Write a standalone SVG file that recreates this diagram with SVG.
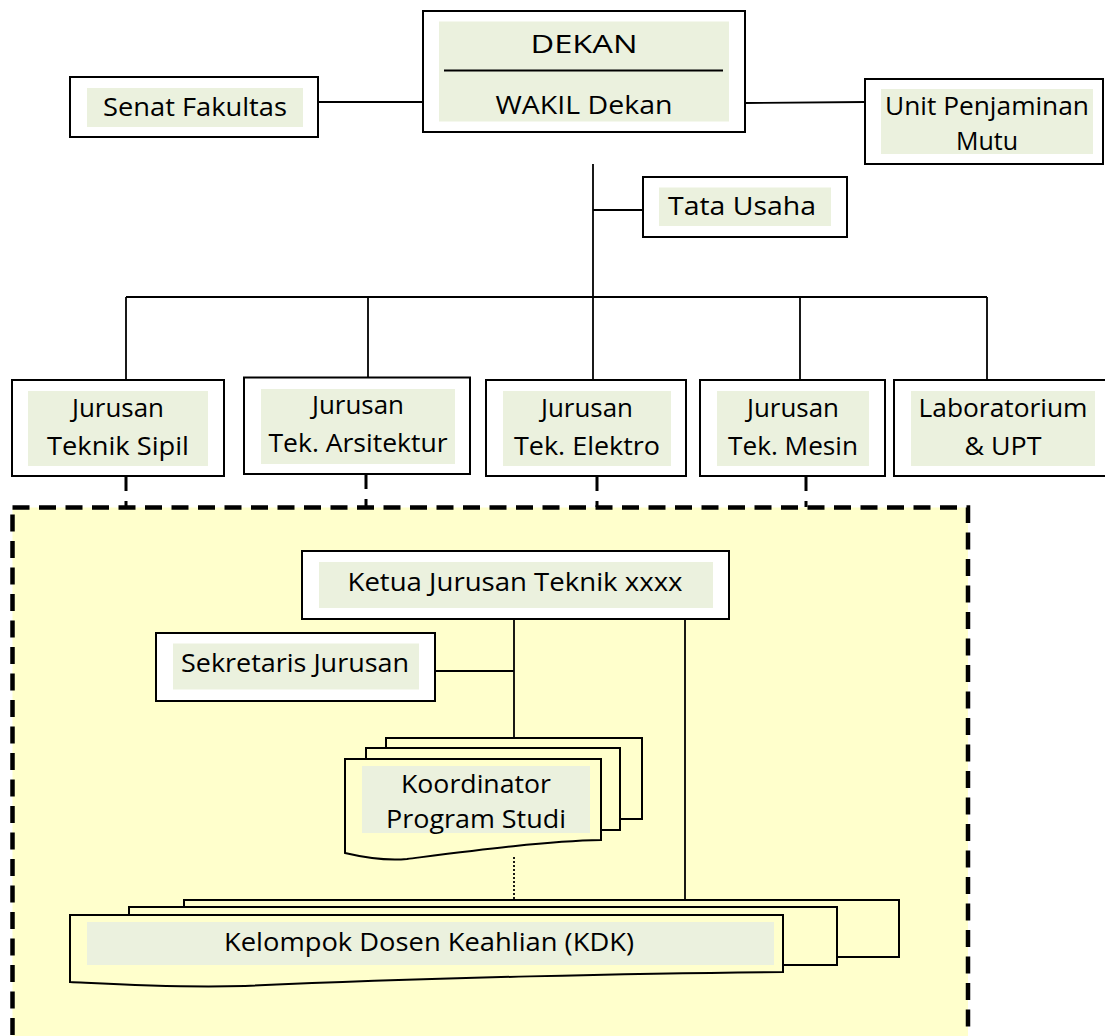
<svg xmlns="http://www.w3.org/2000/svg" width="1105" height="1036" viewBox="0 0 1105 1036">
<style>
.box{fill:#FFFFFF;stroke:#000;stroke-width:2}
.doc{fill:#FFFFCC;stroke:#000;stroke-width:2}
.inner{fill:#EBF1DE;stroke:none}
.t{font-family:"Open Sans","Noto Sans","Liberation Sans",sans-serif;font-size:26px;fill:#000;text-anchor:middle}
.ln{stroke:#000;stroke-width:1.8;fill:none}
.stub{stroke:#000;stroke-width:3;fill:none;stroke-dasharray:15 10}
</style>
<rect id="area" x="12.5" y="507.5" width="955.5" height="620" fill="#FFFFCC" stroke="#000" stroke-width="4.5" stroke-dasharray="17 9.5"/>
<g id="connectors">
<line class="ln" x1="318" y1="102" x2="423" y2="102"/>
<line class="ln" x1="745" y1="103" x2="865" y2="102"/>
<line class="ln" x1="593" y1="164" x2="593" y2="297"/>
<line class="ln" x1="593" y1="210" x2="643" y2="210"/>
<line class="ln" x1="126" y1="297" x2="987" y2="297"/>
<line class="ln" x1="126" y1="297" x2="126" y2="389"/>
<line class="ln" x1="368" y1="297" x2="368" y2="377"/>
<line class="ln" x1="593" y1="297" x2="593" y2="380"/>
<line class="ln" x1="800" y1="297" x2="800" y2="380"/>
<line class="ln" x1="987" y1="297" x2="987" y2="380"/>
<line class="stub" x1="126" y1="476" x2="126" y2="507"/>
<line class="stub" x1="366" y1="474" x2="366" y2="507"/>
<line class="stub" x1="597" y1="476" x2="597" y2="507"/>
<line class="stub" x1="806" y1="476" x2="806" y2="507"/>
<line class="ln" x1="514" y1="619" x2="514" y2="738"/>
<line class="ln" x1="435" y1="671" x2="514" y2="671"/>
<line class="ln" x1="685" y1="619" x2="685" y2="900"/>
<line class="ln" x1="514" y1="857" x2="514" y2="900" stroke-dasharray="2 2" stroke-width="1.5"/>
</g>
<g id="dekan">
<rect class="box" x="423" y="11" width="322" height="121"/>
<rect class="inner" x="439" y="21.5" width="290" height="100"/>
<line x1="444" y1="70.5" x2="723" y2="70.5" stroke="#000" stroke-width="2"/>
<text class="t" x="584" y="53" font-size="30" textLength="107" lengthAdjust="spacingAndGlyphs">DEKAN</text>
<text class="t" x="584" y="114" textLength="177" lengthAdjust="spacingAndGlyphs">WAKIL Dekan</text>
</g>
<g id="senat">
<rect class="box" x="70" y="77" width="248" height="60"/>
<rect class="inner" x="87" y="88" width="216" height="39"/>
<text class="t" x="195" y="116" textLength="184" lengthAdjust="spacingAndGlyphs">Senat Fakultas</text>
</g>
<g id="upm">
<rect class="box" x="865" y="79" width="238" height="85"/>
<rect class="inner" x="881" y="89" width="212" height="65"/>
<text class="t" x="987" y="115" textLength="204" lengthAdjust="spacingAndGlyphs">Unit Penjaminan</text>
<text class="t" x="987" y="150" textLength="62" lengthAdjust="spacingAndGlyphs">Mutu</text>
</g>
<g id="tata-usaha">
<rect class="box" x="643" y="177" width="204" height="60"/>
<rect class="inner" x="659" y="187.5" width="172" height="38.5"/>
<text class="t" x="742" y="215" textLength="148" lengthAdjust="spacingAndGlyphs">Tata Usaha</text>
</g>
<g id="sipil">
<rect class="box" x="12" y="380" width="212" height="96"/>
<rect class="inner" x="28" y="391" width="180" height="75"/>
<text class="t" x="118" y="417" textLength="92" lengthAdjust="spacingAndGlyphs">Jurusan</text>
<text class="t" x="118" y="455" textLength="142" lengthAdjust="spacingAndGlyphs">Teknik Sipil</text>
</g>
<g id="arsitektur">
<rect class="box" x="244" y="377.5" width="226" height="96.5"/>
<rect class="inner" x="261" y="389" width="194" height="75"/>
<text class="t" x="358" y="414" textLength="92" lengthAdjust="spacingAndGlyphs">Jurusan</text>
<text class="t" x="358" y="452" textLength="179" lengthAdjust="spacingAndGlyphs">Tek. Arsitektur</text>
</g>
<g id="elektro">
<rect class="box" x="486" y="380" width="200" height="96"/>
<rect class="inner" x="503" y="391" width="168" height="75"/>
<text class="t" x="587" y="417" textLength="92" lengthAdjust="spacingAndGlyphs">Jurusan</text>
<text class="t" x="587" y="455" textLength="146" lengthAdjust="spacingAndGlyphs">Tek. Elektro</text>
</g>
<g id="mesin">
<rect class="box" x="700" y="380" width="185" height="96"/>
<rect class="inner" x="717" y="391" width="152" height="75"/>
<text class="t" x="793" y="417" textLength="92" lengthAdjust="spacingAndGlyphs">Jurusan</text>
<text class="t" x="793" y="455" textLength="130" lengthAdjust="spacingAndGlyphs">Tek. Mesin</text>
</g>
<g id="lab">
<rect class="box" x="894" y="380" width="212" height="96"/>
<rect class="inner" x="911" y="391" width="184" height="75"/>
<text class="t" x="1003" y="417" textLength="169" lengthAdjust="spacingAndGlyphs">Laboratorium</text>
<text class="t" x="1003" y="455" textLength="77" lengthAdjust="spacingAndGlyphs">&amp; UPT</text>
</g>
<g id="ketua">
<rect class="box" x="302" y="551" width="427" height="68"/>
<rect class="inner" x="319" y="562" width="394" height="46"/>
<text class="t" x="515" y="591" textLength="335" lengthAdjust="spacingAndGlyphs">Ketua Jurusan Teknik xxxx</text>
</g>
<g id="sekretaris">
<rect class="box" x="156" y="633" width="279" height="68"/>
<rect class="inner" x="173" y="643.5" width="246" height="46"/>
<text class="t" x="295" y="672" textLength="228" lengthAdjust="spacingAndGlyphs">Sekretaris Jurusan</text>
</g>
<g id="koordinator">
<rect class="doc" x="386" y="738" width="256" height="81"/>
<rect class="doc" x="366" y="748" width="254" height="82"/>
<path class="doc" d="M345,759 H601 V840 C545,841 470,851 407,859 C385,861 362,857 345,853 Z"/>
<rect class="inner" x="362" y="766" width="228" height="67"/>
<text class="t" x="476" y="793" textLength="150" lengthAdjust="spacingAndGlyphs">Koordinator</text>
<text class="t" x="476" y="828" textLength="180" lengthAdjust="spacingAndGlyphs">Program Studi</text>
</g>
<g id="kdk">
<rect class="doc" x="184" y="900" width="715" height="57"/>
<rect class="doc" x="129" y="907" width="708" height="58"/>
<path class="doc" d="M70,915 H783 V972 C650,973 420,978 245,986 C170,988 110,984 70,982 Z"/>
<rect class="inner" x="87" y="922" width="687" height="43"/>
<text class="t" x="429" y="951" textLength="410" lengthAdjust="spacingAndGlyphs">Kelompok Dosen Keahlian (KDK)</text>
</g>
</svg>
